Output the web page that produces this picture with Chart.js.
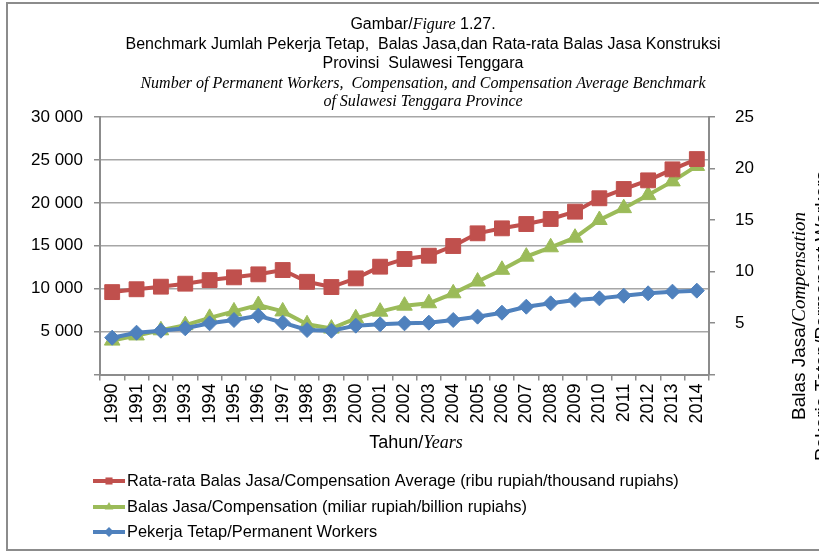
<!DOCTYPE html>
<html>
<head>
<meta charset="utf-8">
<script src="https://cdn.jsdelivr.net/npm/chart.js@4/dist/chart.umd.min.js"></script>
<style>
  html, body { margin: 0; padding: 0; background: #fff; }
  #wrap { width: 819px; height: 552px; position: relative; }
</style>
</head>
<body>
<div id="wrap"><canvas id="lineChart"></canvas></div>
<script>
// data
const years = ['1990','1991','1992','1993','1994','1995','1996','1997','1998','1999','2000','2001','2002',
               '2003','2004','2005','2006','2007','2008','2009','2010','2011','2012','2013','2014']
const avgComp = [9600, 9930, 10230, 10580, 11000, 11320, 11670, 12170, 10800, 10190, 11200, 12560, 13460,
                 13840, 14970, 16450, 17030, 17530, 18120, 18970, 20530, 21610, 22620, 23900, 25100]
const compensation = [3950, 4550, 5150, 5750, 6600, 7350, 8100, 7350, 5850, 5350, 6550, 7320, 8020,
                      8300, 9460, 10830, 12200, 13730, 14820, 15940, 18000, 19380, 20900, 22500, 24300]
const workers = [4290, 4870, 5100, 5380, 5960, 6350, 6850, 6040, 5180, 5100, 5690, 5850, 5960,
                 6040, 6350, 6740, 7200, 7900, 8290, 8680, 8870, 9180, 9460, 9650, 9770]
const leftTicks = [0, 5000, 10000, 15000, 20000, 25000, 30000]
const rightTicks = [0, 5, 10, 15, 20, 25]

const legendLabels = [
    'Rata-rata Balas Jasa/Compensation Average (ribu rupiah/thousand rupiahs)',
    'Balas Jasa/Compensation (miliar rupiah/billion rupiahs)',
    'Pekerja Tetap/Permanent Workers'
]

const red = '#C0504D'
const green = '#9BBB59'
const blue = '#4F81BD'
const axisGray = '#8C8C8C'
const SANS = '"Liberation Sans", Arial, sans-serif'
const SERIF = '"Liberation Serif", "Times New Roman", serif'

const fmt = (v) => v === 0 ? '' : String(v).replace(/\B(?=(\d{3})+(?!\d))/g, ' ')

// draws a line made of pieces with different fonts, centred on cx
function drawMixed(ctx, parts, cx, y) {
    let total = 0
    parts.forEach(p => { ctx.font = p.f; p.w = ctx.measureText(p.t).width; total += p.w })
    let x = cx - total / 2
    ctx.textAlign = 'left'
    parts.forEach(p => { ctx.font = p.f; ctx.fillText(p.t, x, y); x += p.w })
}

const decor = {
    id: 'decor',
    afterDraw(chart) {
        const ctx = chart.ctx
        ctx.save()
        ctx.fillStyle = '#000'
        ctx.textBaseline = 'middle'
        const s16 = '16px ' + SANS
        const i16 = 'italic 16px ' + SERIF
        const cx = 423
        drawMixed(ctx, [{t: 'Gambar/', f: s16}, {t: 'Figure', f: i16}, {t: ' 1.27.', f: s16}], cx, 25)
        drawMixed(ctx, [{t: 'Benchmark Jumlah Pekerja Tetap,  Balas Jasa,dan Rata-rata Balas Jasa Konstruksi', f: s16}], cx, 45)
        drawMixed(ctx, [{t: 'Provinsi  Sulawesi Tenggara', f: s16}], cx, 64)
        drawMixed(ctx, [{t: 'Number of Permanent Workers,  Compensation, and Compensation Average Benchmark', f: i16}], cx, 84)
        drawMixed(ctx, [{t: 'of Sulawesi Tenggara Province', f: i16}], cx, 102)

        // x axis title
        drawMixed(ctx, [{t: 'Tahun/', f: '18px ' + SANS}, {t: 'Years', f: 'italic 18px ' + SERIF}], 416, 443)

        // right axis title (rotated)
        ctx.save()
        ctx.translate(805, 316)
        ctx.rotate(-Math.PI / 2)
        ctx.textBaseline = 'alphabetic'
        drawMixed(ctx, [{t: 'Balas Jasa/', f: '19px ' + SANS}, {t: 'Compensation', f: 'italic 19px ' + SERIF}], 0, 0)
        drawMixed(ctx, [{t: 'Pekerja Tetap/Permanent Workers', f: '19px ' + SANS}], 0, 23)
        ctx.restore()

        // legend
        const colors = [red, green, blue]
        const styles = ['rect', 'triangle', 'rectRot']
        const ys = [481, 507, 532]
        ctx.font = '16.4px ' + SANS
        for (let i = 0; i < 3; i++) {
            ctx.strokeStyle = colors[i]
            ctx.lineWidth = 4
            ctx.beginPath()
            ctx.moveTo(93, ys[i])
            ctx.lineTo(125, ys[i])
            ctx.stroke()
            ctx.fillStyle = colors[i]
            Chart.helpers.drawPoint(ctx, {pointStyle: styles[i], radius: 5, borderWidth: 0, rotation: 0}, 109, ys[i])
            ctx.fillStyle = '#000'
            ctx.textAlign = 'left'
            ctx.textBaseline = 'middle'
            ctx.fillText(legendLabels[i], 127, ys[i])
        }

        // outer frame
        ctx.strokeStyle = axisGray
        ctx.lineWidth = 2
        ctx.beginPath()
        ctx.moveTo(830, 3)
        ctx.lineTo(7, 3)
        ctx.lineTo(7, 550)
        ctx.lineTo(830, 550)
        ctx.stroke()
        ctx.restore()
    }
}

const mkSet = (label, data, color, style, radius, order) => ({
    label, data,
    borderColor: color,
    backgroundColor: color,
    borderWidth: 4,
    pointStyle: style,
    pointRadius: radius,
    pointHoverRadius: radius,
    pointBorderWidth: 1,
    pointBackgroundColor: color,
    pointBorderColor: color,
    tension: 0,
    order,
    yAxisID: 'y'
})

const ctx = document.getElementById('lineChart')
new Chart(ctx, {
    type: 'line',
    data: {
        labels: years,
        datasets: [
            mkSet(legendLabels[0], avgComp, red, 'rect', 10.5, 0),
            mkSet(legendLabels[1], compensation, green, 'triangle', 9, 2),
            mkSet(legendLabels[2], workers, blue, 'rectRot', 7.5, 1)
        ]
    },
    options: {
        responsive: true,
        maintainAspectRatio: false,
        animation: false,
        events: [],
        layout: { padding: { top: 117, left: 0, right: 0, bottom: 0 } },
        plugins: { legend: { display: false }, tooltip: { enabled: false }, title: { display: false } },
        scales: {
            x: {
                offset: true,
                grid: { offset: true, drawOnChartArea: false, color: axisGray, lineWidth: 1.5, tickLength: 6 },
                border: { color: axisGray, width: 2 },
                ticks: { color: '#000', font: { family: SANS, size: 18 }, minRotation: 90, maxRotation: 90, autoSkip: false, padding: 3 },
                afterFit: (s) => { s.height = 177.5 }
            },
            y: {
                position: 'left',
                min: 0, max: 30000,
                afterBuildTicks: (s) => { s.ticks = leftTicks.map(v => ({value: v})) },
                grid: { color: '#A6A6A6', lineWidth: 1.5, tickLength: 6, tickColor: axisGray },
                border: { color: axisGray, width: 2 },
                ticks: { color: '#000', font: { family: SANS, size: 17 }, padding: 11, callback: (v) => fmt(v) },
                afterFit: (s) => { s.width = 100 }
            },
            y1: {
                position: 'right',
                min: 0, max: 25,
                afterBuildTicks: (s) => { s.ticks = rightTicks.map(v => ({value: v})) },
                grid: { drawOnChartArea: false, color: axisGray, lineWidth: 1.5, tickLength: 6 },
                border: { color: axisGray, width: 2 },
                ticks: { color: '#000', font: { family: SANS, size: 17 }, padding: 20, callback: (v) => v === 0 ? '' : v },
                afterFit: (s) => { s.width = 110 }
            }
        }
    },
    plugins: [decor]
})
</script>
</body>
</html>
